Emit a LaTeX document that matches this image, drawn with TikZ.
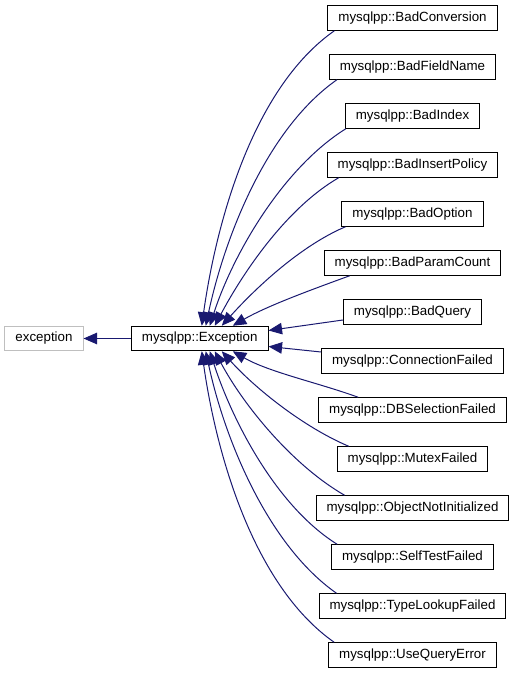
\documentclass[tikz,border=0pt]{standalone}
\usepackage{fontspec}
\setmainfont{Liberation Sans}
\usetikzlibrary{
  arrows.meta % For arrow tips
}
\definecolor{edgeblue}{RGB}{25,25,112}
\definecolor{extgray}{RGB}{191,191,191}

\begin{document}
\begin{tikzpicture}[
    x=1pt, y=1pt,
    font=\fontsize{13.33}{16}\selectfont,
    >={Triangle[length=13.5pt,width=11.5pt]}, % Default arrow tip
    cls/.style={draw=black, line width=1pt, fill=white, inner xsep=10.5pt,
      inner ysep=0pt, minimum height=24.5pt, text height=9.6pt, text depth=2.8pt}, % Class box
    extcls/.style={cls, draw=extgray}, % External class
    inherit/.style={->, draw=edgeblue, line width=1pt}, % Inheritance edge
  ]
    \useasboundingbox (0,0) rectangle (515,-677);
    % Basisklassen
    \node[extcls] (exception) at (44,-338.5) {exception};
    \node[cls] (exc) at (199.75,-338.5) {mysqlpp::Exception};
    % Abgeleitete Klassen
    \node[cls] (badconv)   at (412.5,-18)  {mysqlpp::BadConversion};
    \node[cls] (badfield)  at (412.5,-67)  {mysqlpp::BadFieldName};
    \node[cls] (badindex)  at (412.5,-116) {mysqlpp::BadIndex};
    \node[cls] (badinsert) at (412.5,-165) {mysqlpp::BadInsertPolicy};
    \node[cls] (badoption) at (412.5,-214) {mysqlpp::BadOption};
    \node[cls] (badparam)  at (412.5,-263) {mysqlpp::BadParamCount};
    \node[cls] (badquery)  at (412.5,-312) {mysqlpp::BadQuery};
    \node[cls] (connfail)  at (412.5,-361) {mysqlpp::ConnectionFailed};
    \node[cls] (dbsel)     at (412.5,-410) {mysqlpp::DBSelectionFailed};
    \node[cls] (mutex)     at (412.5,-459) {mysqlpp::MutexFailed};
    \node[cls] (objinit)   at (412.5,-508) {mysqlpp::ObjectNotInitialized};
    \node[cls] (selftest)  at (412.5,-557) {mysqlpp::SelfTestFailed};
    \node[cls] (typelook)  at (412.5,-606) {mysqlpp::TypeLookupFailed};
    \node[cls] (usequery)  at (412.5,-655) {mysqlpp::UseQueryError};
    % Vererbung
    \draw[inherit] (exc) -- (exception);
    % obere Kanten
    \draw[inherit] ([xshift=7pt]badconv.south west) to[out=215, in=82, looseness=0.8] ([xshift=2pt]exc.north);
    \draw[inherit] ([xshift=8pt]badfield.south west) to[out=215, in=78, looseness=0.8] ([xshift=6pt]exc.north);
    \draw[inherit] ([xshift=1pt]badindex.south west) to[out=212, in=72, looseness=0.8] ([xshift=10pt]exc.north);
    \draw[inherit] ([xshift=12pt]badinsert.south west) to[out=210, in=62, looseness=0.8] ([xshift=15pt]exc.north);
    \draw[inherit] ([xshift=4pt]badoption.south west) to[out=203, in=48, looseness=0.8] ([xshift=22pt]exc.north);
    \draw[inherit] ([xshift=26pt]badparam.south west) to[out=200, in=30, looseness=0.8] ([xshift=33pt]exc.north);
    % gerade Kanten
    \draw[inherit] ([yshift=-8pt]badquery.west) -- ([yshift=8pt]exc.east);
    \draw[inherit] ([yshift=9pt]connfail.west) -- ([yshift=-8pt]exc.east);
    % untere Kanten
    \draw[inherit] ([xshift=40pt]dbsel.north west) to[out=160, in=-30, looseness=0.8] ([xshift=33pt]exc.south);
    \draw[inherit] ([xshift=12pt]mutex.north west) to[out=157, in=-48, looseness=0.8] ([xshift=22pt]exc.south);
    \draw[inherit] ([xshift=29pt]objinit.north west) to[out=150, in=-62, looseness=0.8] ([xshift=15pt]exc.south);
    \draw[inherit] ([xshift=6pt]selftest.north west) to[out=148, in=-72, looseness=0.8] ([xshift=10pt]exc.south);
    \draw[inherit] ([xshift=18pt]typelook.north west) to[out=145, in=-78, looseness=0.8] ([xshift=6pt]exc.south);
    \draw[inherit] ([xshift=6pt]usequery.north west) to[out=145, in=-82, looseness=0.8] ([xshift=2pt]exc.south);
\end{tikzpicture}
\end{document}
